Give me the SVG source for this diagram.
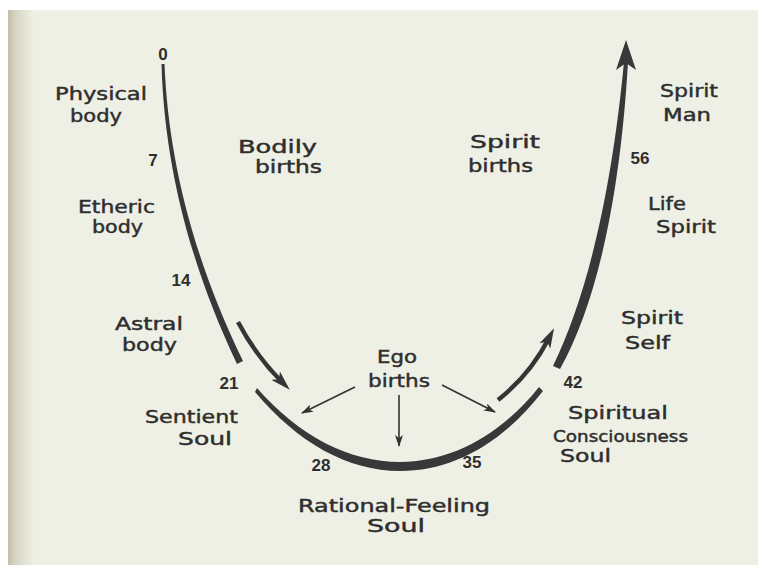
<svg xmlns="http://www.w3.org/2000/svg" width="758" height="565" viewBox="0 0 758 565">
<defs>
<linearGradient id="edge" x1="0" y1="0" x2="1" y2="0">
<stop offset="0" stop-color="#c3bea9"/>
<stop offset="0.35" stop-color="#d9d8c8"/>
<stop offset="1" stop-color="#eef0e5"/>
</linearGradient>
<marker id="thin" viewBox="0 0 12 8" refX="11" refY="4" markerWidth="12" markerHeight="8" markerUnits="userSpaceOnUse" orient="auto">
<path d="M0,0 L12,4 L0,8 L3,4 Z" fill="#333"/>
</marker>
<marker id="thick" viewBox="0 0 20 12" refX="9" refY="6" markerWidth="20" markerHeight="12" markerUnits="userSpaceOnUse" orient="auto">
<path d="M0,0 L20,6 L0,12 L5,6 Z" fill="#353535"/>
</marker>
<style>
.lbl{font-family:"DejaVu Sans","Liberation Sans",sans-serif;font-size:18px;fill:#2e2e2e;stroke:#2e2e2e;stroke-width:0.45}
.num{font-family:"Liberation Sans","DejaVu Sans",sans-serif;font-size:17px;font-weight:bold;fill:#2e2e2e}
.band{fill:#383838}
.thinline{fill:none;stroke:#333;stroke-width:1.6}
.thickline{fill:none;stroke:#353535;stroke-width:4.5}
</style>
</defs>
<rect width="758" height="565" fill="#ffffff"/>
<rect x="8" y="10" width="750" height="555" fill="#eef0e5"/>
<rect x="8" y="10" width="26" height="555" fill="url(#edge)"/>

<g id="connectors">
<path class="band" d="M161.5,64 C164,150 183,250 237,364 L243,361 C189,250 168,150 164.5,64 Z"/>
<path class="band" d="M257,388 C300,437 350,462 400,462 C450,462 500,436 539,387 L543,391 C502,444 452,471 400,471 C348,471 298,443 255,392 Z"/>
<path class="band" d="M553,366 C586,298 611,198 624,62 L628,62 C620,200 596,305 560,369 Z"/>
<path class="band" d="M626,40 L636,70 L626,63 L616,70 Z"/>
<path class="thickline" d="M238,322 Q256,356 282,382" marker-end="url(#thick)"/>
<path class="thickline" d="M498,400 Q530,375 549,338" marker-end="url(#thick)"/>
<line class="thinline" x1="355" y1="387" x2="302" y2="413" marker-end="url(#thin)"/>
<line class="thinline" x1="399" y1="395" x2="399" y2="446" marker-end="url(#thin)"/>
<line class="thinline" x1="442" y1="385" x2="495" y2="412" marker-end="url(#thin)"/>
</g>

<g id="age-0"><text class="num" x="163" y="60" text-anchor="middle">0</text></g>
<g id="age-7"><text class="num" x="153" y="166" text-anchor="middle">7</text></g>
<g id="age-14"><text class="num" x="181" y="286" text-anchor="middle">14</text></g>
<g id="age-21"><text class="num" x="229" y="389" text-anchor="middle">21</text></g>
<g id="age-28"><text class="num" x="321" y="471" text-anchor="middle">28</text></g>
<g id="age-35"><text class="num" x="472" y="468" text-anchor="middle">35</text></g>
<g id="age-42"><text class="num" x="573" y="388" text-anchor="middle">42</text></g>
<g id="age-56"><text class="num" x="640" y="164" text-anchor="middle">56</text></g>

<g id="physical-body">
<text class="lbl" x="55" y="100" textLength="92" lengthAdjust="spacingAndGlyphs">Physical</text>
<text class="lbl" x="70" y="122" textLength="52" lengthAdjust="spacingAndGlyphs">body</text>
</g>
<g id="etheric-body">
<text class="lbl" x="78" y="213" textLength="77" lengthAdjust="spacingAndGlyphs">Etheric</text>
<text class="lbl" x="92" y="233" textLength="51" lengthAdjust="spacingAndGlyphs">body</text>
</g>
<g id="astral-body">
<text class="lbl" x="115" y="330" textLength="68" lengthAdjust="spacingAndGlyphs">Astral</text>
<text class="lbl" x="122" y="351" textLength="55" lengthAdjust="spacingAndGlyphs">body</text>
</g>
<g id="sentient-soul">
<text class="lbl" x="145" y="423" textLength="93" lengthAdjust="spacingAndGlyphs">Sentient</text>
<text class="lbl" x="178" y="445" textLength="54" lengthAdjust="spacingAndGlyphs">Soul</text>
</g>
<g id="bodily-births">
<text class="lbl" x="238" y="153" textLength="79" lengthAdjust="spacingAndGlyphs">Bodily</text>
<text class="lbl" x="255" y="173" textLength="67" lengthAdjust="spacingAndGlyphs">births</text>
</g>
<g id="ego-births">
<text class="lbl" x="377" y="363" textLength="40" lengthAdjust="spacingAndGlyphs">Ego</text>
<text class="lbl" x="368" y="387" textLength="62" lengthAdjust="spacingAndGlyphs">births</text>
</g>
<g id="rational-feeling-soul">
<text class="lbl" x="298" y="512" textLength="192" lengthAdjust="spacingAndGlyphs">Rational-Feeling</text>
<text class="lbl" x="367" y="532" textLength="58" lengthAdjust="spacingAndGlyphs">Soul</text>
</g>
<g id="spirit-births">
<text class="lbl" x="470" y="148" textLength="70" lengthAdjust="spacingAndGlyphs">Spirit</text>
<text class="lbl" x="468" y="172" textLength="65" lengthAdjust="spacingAndGlyphs">births</text>
</g>
<g id="spirit-man">
<text class="lbl" x="660" y="97" textLength="58" lengthAdjust="spacingAndGlyphs">Spirit</text>
<text class="lbl" x="663" y="121" textLength="48" lengthAdjust="spacingAndGlyphs">Man</text>
</g>
<g id="life-spirit">
<text class="lbl" x="648" y="210" textLength="38" lengthAdjust="spacingAndGlyphs">Life</text>
<text class="lbl" x="656" y="233" textLength="60" lengthAdjust="spacingAndGlyphs">Spirit</text>
</g>
<g id="spirit-self">
<text class="lbl" x="621" y="324" textLength="62" lengthAdjust="spacingAndGlyphs">Spirit</text>
<text class="lbl" x="625" y="349" textLength="45" lengthAdjust="spacingAndGlyphs">Self</text>
</g>
<g id="consciousness-soul">
<text class="lbl" x="568" y="419" textLength="100" lengthAdjust="spacingAndGlyphs">Spiritual</text>
<text class="lbl" x="553" y="442" textLength="135" lengthAdjust="spacingAndGlyphs" style="font-size:16px">Consciousness</text>
<text class="lbl" x="560" y="462" textLength="51" lengthAdjust="spacingAndGlyphs">Soul</text>
</g>
</svg>
